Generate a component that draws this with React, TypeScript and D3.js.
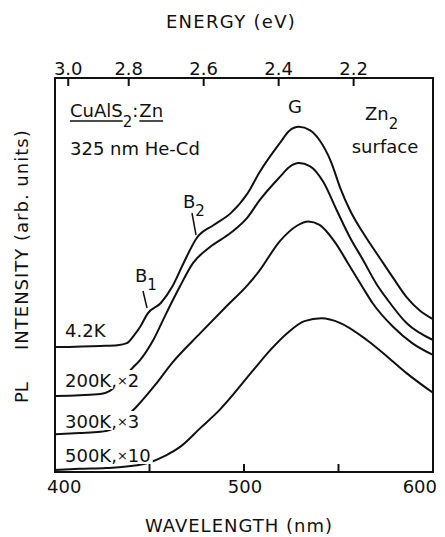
import React, { useEffect, useRef } from 'react';
import * as d3 from 'd3';

// PL spectra (wavelength in nm, intensity in arb. units)
const wl4K = [400, 424, 433, 438, 442, 445, 449, 456, 462, 468, 475, 484, 493, 502, 508, 519, 524, 529, 535, 540, 546, 551, 556, 563, 572, 579, 586, 593, 600];
const int4K = [3.17, 3.2, 3.22, 3.27, 3.48, 3.68, 4.02, 4.29, 4.7, 5.3, 5.94, 6.27, 6.57, 7.08, 7.59, 8.35, 8.66, 8.76, 8.67, 8.42, 7.88, 7.2, 6.65, 6.07, 5.42, 4.92, 4.44, 4.1, 3.88];

const wl200K = [400, 413, 424, 429, 434, 441, 445, 452, 459, 466, 473, 482, 493, 502, 508, 519, 524, 529, 535, 542, 549, 556, 563, 570, 576, 586, 600];
const int200K = [1.93, 1.95, 1.98, 2.06, 2.28, 2.64, 2.84, 3.35, 4.04, 4.7, 5.3, 5.71, 6.07, 6.47, 6.88, 7.49, 7.74, 7.84, 7.76, 7.36, 6.65, 5.96, 5.38, 4.78, 4.37, 3.78, 3.35];

const wl300K = [400, 413, 424, 430, 436, 443, 453, 462, 477, 491, 502, 508, 519, 528, 534, 540, 548, 555, 563, 568, 579, 589, 600];
const int300K = [0.96, 0.99, 1.02, 1.09, 1.32, 1.65, 2.21, 2.77, 3.53, 4.22, 4.75, 5.1, 5.86, 6.25, 6.36, 6.27, 5.84, 5.3, 4.67, 4.29, 3.68, 3.27, 2.97];

const wl500K = [400, 413, 427, 440, 449, 459, 466, 477, 487, 505, 514, 523, 532, 541, 551, 565, 576, 586, 600];
const int500K = [0.05, 0.08, 0.1, 0.15, 0.23, 0.43, 0.63, 1.12, 1.57, 2.59, 3.1, 3.53, 3.83, 3.9, 3.78, 3.35, 2.92, 2.51, 2.01];

const wavelengthTicks = [450, 500, 550];
const wavelengthLabels = [400, 500, 600];
const energyTicks = [3.0, 2.8, 2.6, 2.4, 2.2];
// the printed energy scale: energies and the wavelengths they sit over
const energyKnots = [3.0, 2.8, 2.2];
const energyKnotWl = [407, 439, 558];

const curveNames = ['4.2K', '200K', '300K', '500K'];

const App = () => {
  const svgRef = useRef<SVGSVGElement>(null);

  useEffect(() => {
    const width = 445;
    const height = 537;
    const margin = { top: 78, right: 12, bottom: 65, left: 55 };

    const svg = d3.select(svgRef.current)
      .attr('width', width)
      .attr('height', height)
      .attr('font-family', '"DejaVu Sans", sans-serif')
      .attr('font-size', 18)
      .attr('fill', '#111');

    svg.selectAll('*').remove();

    const x = d3.scaleLinear().domain([400, 600]).range([margin.left, width - margin.right]);
    const y = d3.scaleLinear().domain([0, 10]).range([height - margin.bottom, margin.top]);
    const ex = d3.scaleLinear().domain(energyKnots).range(energyKnotWl.map(w => x(w)));

    const curveG = svg.append('g');
    const maskG = svg.append('g');
    const textG = svg.append('g');
    const frameG = svg.append('g');

    // spectra
    const line = d3.line<[number, number]>()
      .x(d => x(d[0]))
      .y(d => y(d[1]))
      .curve(d3.curveMonotoneX);

    const series = [
      d3.zip(wl4K, int4K),
      d3.zip(wl200K, int200K),
      d3.zip(wl300K, int300K),
      d3.zip(wl500K, int500K),
    ];
    series.forEach((pts, i) => {
      curveG.append('path')
        .datum(pts as [number, number][])
        .attr('class', curveNames[i])
        .attr('d', line)
        .attr('fill', 'none')
        .attr('stroke', '#111')
        .attr('stroke-width', 2);
    });

    // frame + ticks
    const [x0, x1] = x.range();
    const [yb, yt] = y.range();
    frameG.append('rect')
      .attr('x', x0).attr('y', yt)
      .attr('width', x1 - x0).attr('height', yb - yt)
      .attr('fill', 'none').attr('stroke', '#111').attr('stroke-width', 2);

    wavelengthTicks.forEach(t => {
      frameG.append('line')
        .attr('x1', x(t)).attr('x2', x(t))
        .attr('y1', yb).attr('y2', yb - 8)
        .attr('stroke', '#111').attr('stroke-width', 2);
    });
    energyTicks.forEach(e => {
      frameG.append('line')
        .attr('x1', ex(e)).attr('x2', ex(e))
        .attr('y1', yt).attr('y2', yt + 8)
        .attr('stroke', '#111').attr('stroke-width', 2);
      textG.append('text')
        .attr('x', ex(e)).attr('y', yt - 3)
        .attr('text-anchor', 'middle')
        .text(e.toFixed(1));
    });

    wavelengthLabels.forEach((t, i) => {
      textG.append('text')
        .attr('x', x(t) + (i === 0 ? -8 : i === 2 ? 4 : 1))
        .attr('y', yb + 21)
        .attr('text-anchor', i === 0 ? 'start' : i === 2 ? 'end' : 'middle')
        .text(t);
    });

    // axis titles
    textG.append('text')
      .attr('x', 231).attr('y', 28)
      .attr('text-anchor', 'middle')
      .attr('letter-spacing', 1.3)
      .text('ENERGY (eV)');

    textG.append('text')
      .attr('x', 239).attr('y', 532)
      .attr('text-anchor', 'middle')
      .attr('letter-spacing', 1)
      .text('WAVELENGTH (nm)');

    textG.append('text')
      .attr('transform', 'translate(28, 403) rotate(-90)')
      .text('PL');
    textG.append('text')
      .attr('transform', 'translate(28, 350) rotate(-90)')
      .attr('letter-spacing', 1)
      .text('INTENSITY (arb. units)');

    // sample caption
    const textW = (sel: d3.Selection<SVGTextElement, unknown, null, undefined>) =>
      (sel.node() as SVGTextElement).getComputedTextLength();

    const cu = textG.append('text').attr('x', 70).attr('y', 117).text('CuAlS');
    const cuW = textW(cu);
    const sub = textG.append('text').attr('x', 70 + cuW).attr('y', 127).attr('font-size', 15).text('2');
    const subW = textW(sub);
    const colon = textG.append('text').attr('x', 70 + cuW + subW).attr('y', 117).text(':');
    const znX = 70 + cuW + subW + textW(colon) + 1;
    const zn = textG.append('text').attr('x', znX).attr('y', 117).text('Zn');
    const znW = textW(zn);
    [[70, 70 + cuW], [znX, znX + znW]].forEach(([a, b]) => {
      textG.append('line')
        .attr('x1', a).attr('x2', b)
        .attr('y1', 121).attr('y2', 121)
        .attr('stroke', '#111').attr('stroke-width', 1.5);
    });

    textG.append('text').attr('x', 70).attr('y', 155).text('325 nm  He-Cd');

    // peak / band markers
    textG.append('text').attr('x', 295).attr('y', 113).attr('text-anchor', 'middle').text('G');

    const zn2 = textG.append('text').attr('x', 365).attr('y', 120).text('Zn');
    textG.append('text').attr('x', 365 + textW(zn2)).attr('y', 129).attr('font-size', 15).text('2');
    textG.append('text').attr('x', 385).attr('y', 153).attr('text-anchor', 'middle').text('surface');

    const band = (name: string, idx: string, bx: number, by: number, l: number[]) => {
      const b = textG.append('text').attr('x', bx).attr('y', by).text(name);
      textG.append('text').attr('x', bx + textW(b)).attr('y', by + 8).attr('font-size', 15).text(idx);
      textG.append('line')
        .attr('x1', l[0]).attr('y1', l[1]).attr('x2', l[2]).attr('y2', l[3])
        .attr('stroke', '#111').attr('stroke-width', 1.5);
    };
    band('B', '1', 135, 282, [143, 291, 147, 308]);
    band('B', '2', 183, 208, [192, 213, 196, 235]);

    // curve labels, masking the line where it runs behind them
    const curveLabel = (temp: string, factor: string | null, ly: number) => {
      const t = textG.append('text').attr('x', 65).attr('y', ly);
      t.append('tspan').text(temp + (factor ? ',' : ''));
      if (factor) {
        t.append('tspan').attr('font-size', 13).attr('dy', -2).text('×');
        t.append('tspan').attr('dy', 2).text(factor);
      }
      const bb = (t.node() as SVGTextElement).getBBox();
      maskG.append('rect')
        .attr('x', bb.x - 2).attr('y', bb.y)
        .attr('width', bb.width + 4).attr('height', ly + 2 - bb.y)
        .attr('fill', '#fff');
    };
    curveLabel('4.2K', null, 337);
    curveLabel('200K', '2', 387);
    curveLabel('300K', '3', 428);
    curveLabel('500K', '10', 462);
  }, []);

  return (
    <div style={{ position: 'absolute', left: 0, top: 0, background: '#fff' }}>
      <svg ref={svgRef}></svg>
    </div>
  );
};

export default App;
